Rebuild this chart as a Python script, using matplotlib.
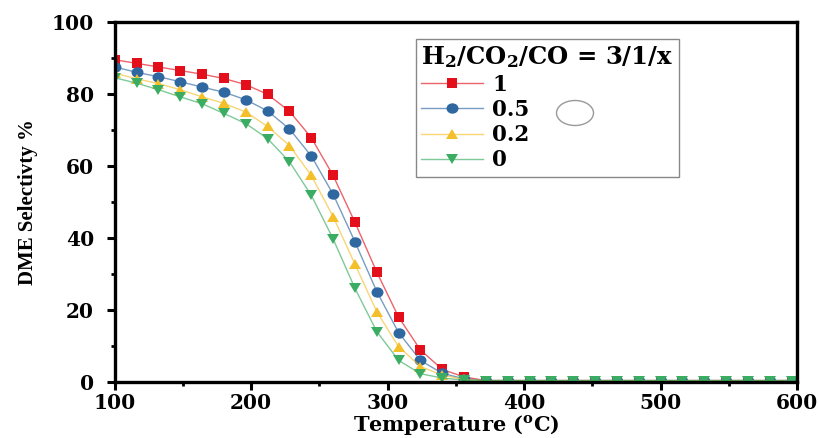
import matplotlib
matplotlib.use("Agg")
import matplotlib.pyplot as plt
from matplotlib.colors import to_rgba
from matplotlib.markers import MarkerStyle
from matplotlib.patches import Ellipse
from matplotlib.ticker import MultipleLocator
from matplotlib.transforms import Affine2D

plt.rcParams['mathtext.fontset'] = 'custom'
plt.rcParams['mathtext.rm'] = 'DejaVu Serif:bold'
plt.rcParams['mathtext.default'] = 'rm'

# temperature (oC)
temperature = [100, 116, 132, 148, 164, 180, 196, 212, 228, 244, 260, 276, 292, 308, 324, 340,
               356, 372, 388, 404, 420, 436, 452, 468, 484, 500, 516, 532, 548, 564, 580, 596]

tail = [0.5] * 15  # flat part above ~370 C

# DME selectivity (%) for H2/CO2/CO = 3/1/x
sel_co_1 = [89.5, 88.5, 87.5, 86.5, 85.5, 84.3, 82.6, 79.9, 75.2, 67.9, 57.4, 44.4,
            30.6, 18.1, 9.0, 3.6, 1.5] + tail
sel_co_05 = [87.5, 86.0, 84.8, 83.4, 81.9, 80.5, 78.4, 75.3, 70.3, 62.8, 52.2, 39.0,
             25.2, 13.8, 6.1, 2.5, 1.0] + tail
sel_co_02 = [85.8, 84.2, 82.9, 81.2, 79.2, 77.4, 75.0, 71.0, 65.7, 57.4, 46.0, 32.8,
             19.6, 9.9, 4.4, 2.0, 0.8] + tail
sel_co_0 = [84.5, 83.0, 81.2, 79.2, 77.3, 74.6, 71.8, 67.6, 61.2, 51.9, 39.8, 26.1,
            14.1, 6.1, 2.4, 1.2, 0.6] + tail

labels = ['1', '0.5', '0.2', '0']
colors = ['#e3101c', '#2f68a0', '#f3c02c', '#3aad62']
markers = ['s', 'o', '^', 'v']
msizes = [6.5, 7.5, 7.8, 7.8]
series = [sel_co_1, sel_co_05, sel_co_02, sel_co_0]

tick_font = {'family': 'DejaVu Serif', 'weight': 'bold', 'size': 14.5}

fig = plt.figure(figsize=(8.2, 4.38), dpi=100)
ax = fig.add_axes([0.140, 0.127, 0.832, 0.823])

# picture is a bit stretched sideways, so markers are too
stretch = Affine2D().scale(1.15, 1.0)
for y, c, m, ms, lab in zip(series, colors, markers, msizes, labels):
    ax.plot(temperature, y, color=to_rgba(c, 0.65), linewidth=1.0, label=lab,
            marker=MarkerStyle(m, transform=stretch), markersize=ms,
            markerfacecolor=c, markeredgecolor=c, markeredgewidth=0)

ax.set_xlim(100, 600)
ax.set_ylim(0, 100)
ax.xaxis.set_major_locator(MultipleLocator(100))
ax.xaxis.set_minor_locator(MultipleLocator(50))
ax.yaxis.set_major_locator(MultipleLocator(20))
ax.yaxis.set_minor_locator(MultipleLocator(10))
ax.tick_params(which='major', direction='out', length=6, width=2.2)
ax.tick_params(which='minor', direction='out', length=3, width=2.0)
ax.tick_params(axis='x', which='major', pad=2)
ax.tick_params(axis='y', which='major', pad=9)
for lbl in ax.get_xticklabels() + ax.get_yticklabels():
    lbl.set_fontproperties(tick_font)
for s in ax.spines.values():
    s.set_linewidth(2.4)

ax.set_xlabel(r'Temperature ($^{\mathrm{o}}$C)', fontfamily='DejaVu Serif',
              fontweight='bold', fontsize=15, labelpad=0)
ax.set_ylabel('DME Selectivty %', fontfamily='Liberation Serif',
              fontweight='bold', fontsize=15, labelpad=10)

leg = ax.legend(title=r'H$_2$/CO$_2$/CO = 3/1/x', loc='upper left',
                bbox_to_anchor=(0.441, 0.952), borderaxespad=0,
                prop={'family': 'DejaVu Serif', 'weight': 'bold', 'size': 15.5},
                title_fontproperties={'family': 'DejaVu Serif', 'weight': 'bold', 'size': 17.5},
                handlelength=2.9, handletextpad=0.4, labelspacing=0.15,
                borderpad=0.25, fancybox=False, framealpha=1.0, edgecolor='#888888')
leg.get_frame().set_linewidth(1.0)
leg._legend_box.align = 'left'

# stray circle next to the legend in the source image
fig.patches.append(Ellipse((575 / 820, 1 - 113 / 438), 37 / 820, 25 / 438,
                           transform=fig.transFigure, fill=False,
                           edgecolor='#999999', linewidth=1.0))

fig.savefig('out.png', dpi=100)
plt.close()
